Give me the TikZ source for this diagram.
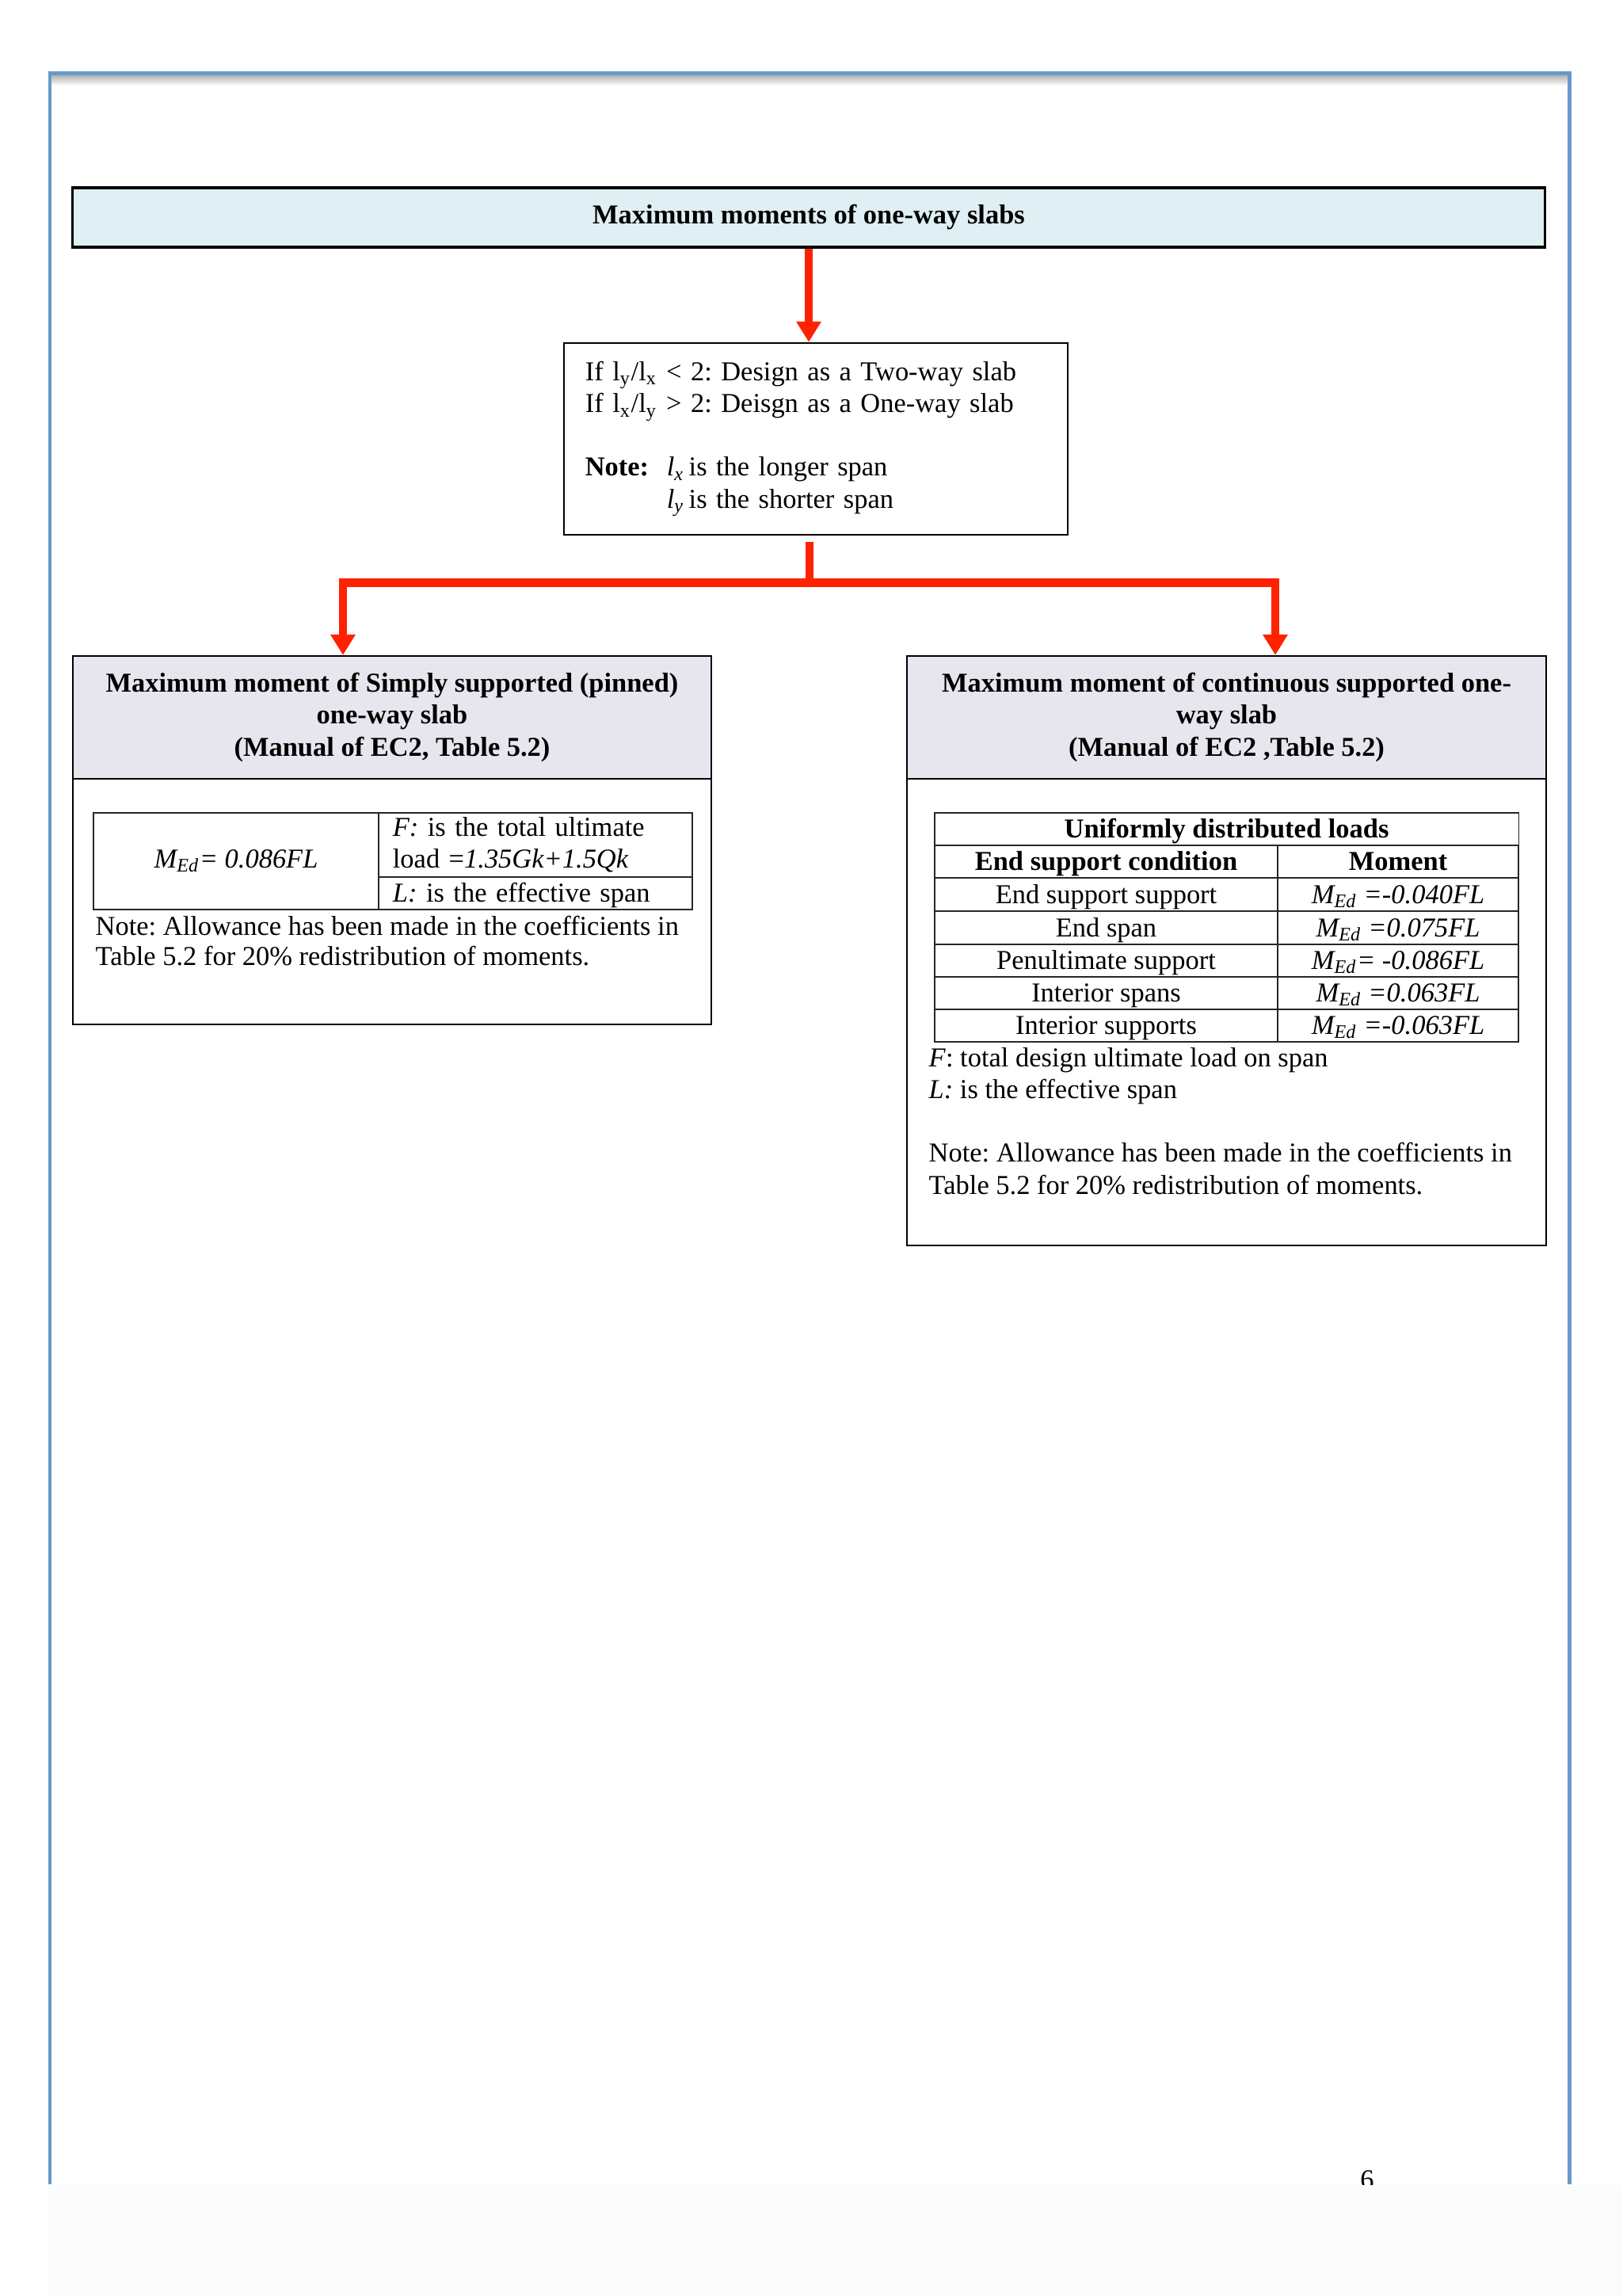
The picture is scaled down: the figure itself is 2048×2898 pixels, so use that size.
\documentclass[tikz,border=0pt]{standalone}
\usepackage{fontspec}
\setmainfont{Liberation Serif}
\usetikzlibrary{positioning,arrows.meta}
\definecolor{pageblue}{RGB}{102,153,204}
\definecolor{titleblue}{RGB}{223,239,243}
\definecolor{headgray}{RGB}{231,230,238}
\definecolor{arrowred}{RGB}{255,34,0}
\frenchspacing
\tikzset{
txt/.style={font=\fontsize{9.8}{11.4}\selectfont},
box/.style={draw=black, line width=0.6pt, inner sep=0pt, txt},
head/.style={box, fill=headgray, align=center,
    font=\fontsize{9.8}{11.4}\selectfont\bfseries},
cell/.style={draw=black!85, line width=0.4pt, inner sep=0pt, txt},
row/.style={cell, minimum height=0.41cm, text height=0.27cm, text depth=0.05cm},
bold/.style={font=\fontsize{9.8}{11.4}\selectfont\bfseries},
redline/.style={draw=arrowred, line width=2.85pt},
redarrow/.style={redline, -{Triangle[length=0.26cm,width=0.30cm]}}
}

\begin{document}
\begin{tikzpicture}[x=0.01cm,y=-0.01cm]
\useasboundingbox (0,0) rectangle (2048,2898);
\fill[white] (0,0) rectangle (2048,2898);
\fill[black!1] (61,2757) rectangle (2048,2898);

% page frame
\fill[pageblue] (61,90) rectangle (1984,96);
\fill[pageblue] (61,90) rectangle (65,2757);
\fill[pageblue] (1979,90) rectangle (1984,2757);
\shade[top color=black!28, bottom color=white] (65,96) rectangle (1979,108);

\node[box, line width=0.9pt, fill=titleblue, minimum width=18.58cm, minimum height=0.75cm,
    bold] (title) at (1021,274.5) {Maximum moments of one-way slabs};

\node[box, line width=0.65pt, minimum height=2.42cm, text width=5.82cm, inner xsep=0.27cm,
    align=left] (cond) at (1030,554) {If l\textsubscript{y}/l\textsubscript{x} < 2: Design as a Two-way slab\\
If l\textsubscript{x}/l\textsubscript{y} > 2: Deisgn as a One-way slab\\[11.4pt]
\makebox[1.03cm][l]{\textbf{Note:}}\textit{l\textsubscript{x}}\,is the longer span\\
\hspace*{1.03cm}\textit{l\textsubscript{y}}\,is the shorter span};

% left branch
\node[head, minimum width=8.06cm, minimum height=1.55cm] (lhead) at (495,905.5)
    {Maximum moment of Simply supported (pinned)\\one-way slab\\(Manual of EC2, Table 5.2)};
\node[box, minimum width=8.06cm, minimum height=3.10cm] (lbody) at (495,1138) {};
\node[cell, minimum width=3.60cm, minimum height=1.22cm] (lmed) at (298,1087)
    {\textit{M\textsubscript{Ed}= 0.086FL}};
\node[cell, minimum height=0.81cm, text width=3.60cm, inner xsep=0.18cm, align=left] (lfdef)
    at (676,1066.5) {\textit{F:} is the total ultimate\\load =\textit{1.35Gk+1.5Qk}};
\node[row, text width=3.60cm, inner xsep=0.18cm, align=left] (lldef) at (676,1127.5)
    {\textit{L:} is the effective span};
\node[txt, font=\fontsize{9.8}{10.8}\selectfont, inner sep=0pt, anchor=base west, align=left]
    (lnote) at (120,1218)
    {Note: Allowance has been made in the coefficients in\\Table 5.2 for 20\% redistribution of moments.};

% right branch
\node[head, minimum width=8.07cm, minimum height=1.55cm] (rhead) at (1548.5,905.5)
    {Maximum moment of continuous supported one-\\way slab\\(Manual of EC2 ,Table 5.2)};
\node[box, minimum width=8.07cm, minimum height=5.89cm] (rbody) at (1548.5,1277.5) {};
\node[row, minimum width=7.37cm, bold] (udl) at (1548.5,1046.5) {Uniformly distributed loads};
\node[row, minimum width=4.33cm, bold] (hcond) at (1396.5,1087.5) {End support condition};
\node[row, minimum width=3.04cm, bold] (hmom) at (1765,1087.5) {Moment};
\node[row, minimum width=4.33cm] (c1) at (1396.5,1129) {End support support};
\node[row, minimum width=3.04cm] (m1) at (1765,1129) {\textit{M\textsubscript{Ed} =-0.040FL}};
\node[row, minimum width=4.33cm] (c2) at (1396.5,1171) {End span};
\node[row, minimum width=3.04cm] (m2) at (1765,1171) {\textit{M\textsubscript{Ed} =0.075FL}};
\node[row, minimum width=4.33cm] (c3) at (1396.5,1212.5) {Penultimate support};
\node[row, minimum width=3.04cm] (m3) at (1765,1212.5) {\textit{M\textsubscript{Ed}= -0.086FL}};
\node[row, minimum width=4.33cm] (c4) at (1396.5,1253.5) {Interior spans};
\node[row, minimum width=3.04cm] (m4) at (1765,1253.5) {\textit{M\textsubscript{Ed} =0.063FL}};
\node[row, minimum width=4.33cm] (c5) at (1396.5,1294.5) {Interior supports};
\node[row, minimum width=3.04cm] (m5) at (1765,1294.5) {\textit{M\textsubscript{Ed} =-0.063FL}};
\node[txt, inner sep=0pt, anchor=base west, align=left] (rnote) at (1172,1507)
    {\textit{F}: total design ultimate load on span\\\textit{L:} is the effective span\\[11.4pt]
Note: Allowance has been made in the coefficients in\\Table 5.2 for 20\% redistribution of moments.};

% connectors
\coordinate (stub) at (1022,684);
\coordinate (split) at (1022,735.5);
\coordinate (lfork) at (433,735.5);
\coordinate (rfork) at (1610,735.5);
\draw[redarrow] (title.south) -- (title.south |- cond.north);
\draw[redline] (stub) -- (split);
\draw[redarrow] (split) -| (lfork |- lhead.north);
\draw[redarrow] (split) -| (rfork |- rhead.north);

\begin{scope}
\clip (0,0) rectangle (2048,2757);
\node[txt, anchor=base] (pagenum) at (1726,2762) {6};
\end{scope}
\end{tikzpicture}
\end{document}
